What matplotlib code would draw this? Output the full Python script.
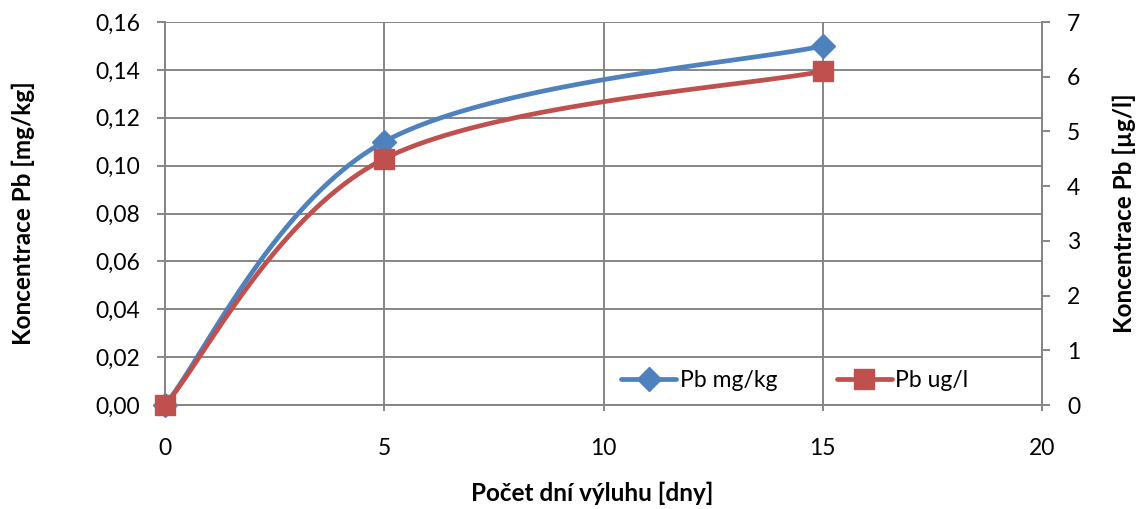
import numpy as np
import matplotlib
matplotlib.use("Agg")
from matplotlib import pyplot as plt
from matplotlib.ticker import FuncFormatter

dny = [0, 5, 15]
pb_mgkg = [0.0, 0.11, 0.15]
pb_ugl = [0.0, 4.5, 6.1]

plt.rcParams['font.family'] = ['Lato', 'DejaVu Sans']

modra = '#4F81BD'
cervena = '#C0504D'
seda = '#868686'


def hladka(x, y, n=60):
    # vyhlazena cara jako v Excelu (bezier s tecnami (P2-P0)/6)
    p = np.column_stack([x, y]).astype(float)
    out = []
    for i in range(len(p) - 1):
        p0 = p[i - 1] if i > 0 else p[i]
        p1 = p[i]
        p2 = p[i + 1]
        p3 = p[i + 2] if i + 2 < len(p) else p[i + 1]
        c1 = p1 + (p2 - p0) / 6
        c2 = p2 - (p3 - p1) / 6
        t = np.linspace(0, 1, n)[:, None]
        seg = (1 - t) ** 3 * p1 + 3 * (1 - t) ** 2 * t * c1 + 3 * (1 - t) * t ** 2 * c2 + t ** 3 * p2
        out.append(seg if i == 0 else seg[1:])
    s = np.vstack(out)
    return s[:, 0], s[:, 1]


fig = plt.figure(figsize=(11.44, 5.09), dpi=100)
ax = fig.add_axes([165 / 1144, 1 - 405 / 509, (1042 - 165) / 1144, (405 - 22) / 509])
ax2 = ax.twinx()

sx, sy = hladka(dny, pb_mgkg)
l1, = ax.plot(sx, sy, color=modra, lw=3.4, solid_capstyle='round', zorder=3, clip_on=False)
m1, = ax.plot(dny, pb_mgkg, ls='none', marker='D', ms=12, color=modra, zorder=4, clip_on=False)
sx2, sy2 = hladka(dny, pb_ugl)
l2, = ax2.plot(sx2, sy2, color=cervena, lw=3.4, solid_capstyle='round', zorder=3, clip_on=False)
m2, = ax2.plot(dny, pb_ugl, ls='none', marker='s', ms=14, color=cervena, zorder=4, clip_on=False)

ax.set_xlim(0, 20)
ax.set_ylim(0, 0.16)
ax2.set_ylim(0, 7)
ax.set_xticks([0, 5, 10, 15, 20])
ax.set_yticks(np.arange(0, 0.161, 0.02))
ax2.set_yticks(range(8))
ax.yaxis.set_major_formatter(FuncFormatter(lambda v, p: f"{v:.2f}".replace('.', ',')))

ax.grid(True, color=seda, lw=1.4)
ax.set_axisbelow(True)
for a in (ax, ax2):
    a.spines['top'].set_visible(False)
    for s in ('left', 'right', 'bottom'):
        a.spines[s].set_color(seda)
        a.spines[s].set_linewidth(1.4)
ax.tick_params(axis='y', length=6, width=1.4, color=seda, labelsize=16.5, pad=12)
ax.tick_params(axis='x', length=4, width=1.4, color=seda, labelsize=16.5, pad=20)
ax2.tick_params(axis='y', length=6, width=1.4, color=seda, labelsize=16.5, pad=12)

ax.set_xlabel('Počet dní výluhu [dny]', fontsize=17.5, fontweight='bold')
ax.set_ylabel('Koncentrace Pb [mg/kg]', fontsize=17.5, fontweight='bold')
ax2.set_ylabel('Koncentrace Pb [µg/l]', fontsize=17.5, fontweight='bold')
ax.xaxis.set_label_coords(0.487, -0.2)
ax.yaxis.set_label_coords(-0.148, 0.5)
ax2.yaxis.set_label_coords(1.08, 0.5)

leg = ax2.legend([(l1, m1), (l2, m2)], ['Pb mg/kg', 'Pb ug/l'], ncol=2, frameon=False,
                 loc='center left', bbox_to_anchor=(0.51, 0.065), fontsize=16.5,
                 handlelength=2.4, columnspacing=2.6, handletextpad=0.15,
                 borderaxespad=0)

plt.savefig('out.png', dpi=100)
